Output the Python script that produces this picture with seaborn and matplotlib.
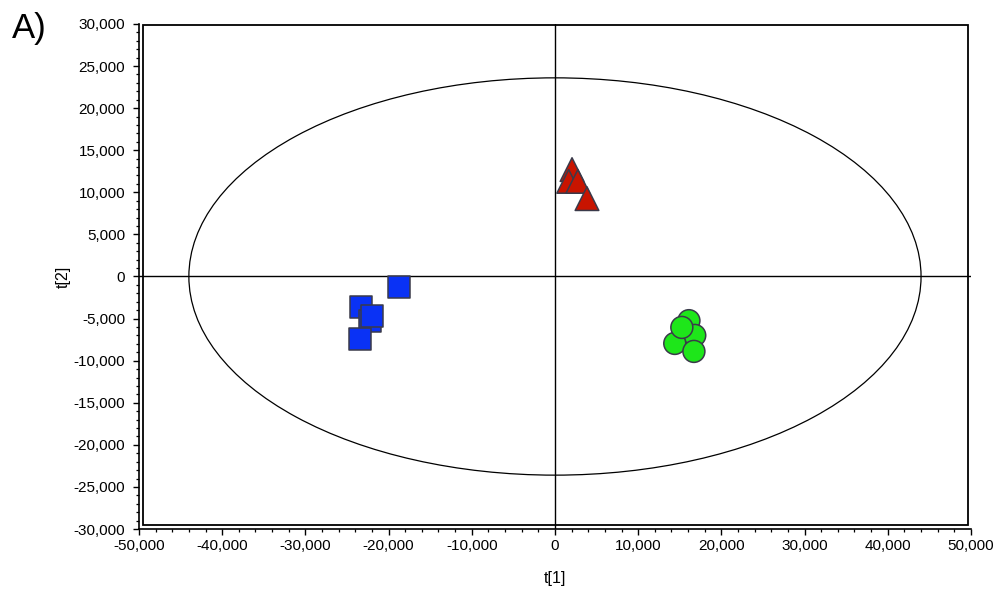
import numpy as np
import pandas as pd
import matplotlib
matplotlib.use('Agg')
import matplotlib.pyplot as plt
from matplotlib.patches import Ellipse, Rectangle
from matplotlib.ticker import MultipleLocator, FuncFormatter
import seaborn as sns

# scores
t1_squares = [-18750, -23300, -22200, -22000, -23400]
t2_squares = [-1300, -3600, -5300, -4650, -7400]
t1_triangles = [2050, 1650, 2750, 3850]
t2_triangles = [12700, 11300, 11300, 9250]
t1_circles = [16100, 16800, 14400, 16700, 15250]
t2_circles = [-5250, -7000, -7950, -8900, -6050]

# hotelling ellipse semi-axes
ell_a = 44000
ell_b = 23600

groups = ['squares'] * len(t1_squares) + ['triangles'] * len(t1_triangles) + ['circles'] * len(t1_circles)
df = pd.DataFrame({
    't1': t1_squares + t1_triangles + t1_circles,
    't2': t2_squares + t2_triangles + t2_circles,
    'grp': groups,
})

sns.set_style('white')
plt.rcParams['font.family'] = ['Liberation Sans', 'DejaVu Sans']
plt.rcParams['text.color'] = 'black'
plt.rcParams['axes.labelcolor'] = 'black'
plt.rcParams['xtick.color'] = 'black'
plt.rcParams['ytick.color'] = 'black'

fig = plt.figure(figsize=(10.04, 5.92), dpi=100)
ax = fig.add_axes([0.1384, 0.1064, 0.8287, 0.8531])

# background: ellipse + crosshair
ax.add_patch(Ellipse((0, 0), 2 * ell_a, 2 * ell_b, fill=False, ec='black', lw=0.9, zorder=1))
ax.axhline(0, color='black', lw=1.0, zorder=1)
ax.axvline(0, color='black', lw=1.0, zorder=1)

sns.scatterplot(data=df, x='t1', y='t2', hue='grp', style='grp', size='grp',
                palette={'squares': '#0a32f5', 'triangles': '#c81400', 'circles': '#1ee61a'},
                markers={'squares': 's', 'triangles': '^', 'circles': 'o'},
                sizes={'squares': 250, 'triangles': 290, 'circles': 250},
                edgecolor='#3a3a4a', linewidth=1.1, legend=False, zorder=3, ax=ax)

ax.set_xlim(-50000, 50000)
ax.set_ylim(-30000, 30000)

# inner frame
ax.add_patch(Rectangle((0.005, 0.008), 0.991, 0.99, transform=ax.transAxes,
                       fill=False, ec='black', lw=1.3, zorder=2, clip_on=False))

for s in ['top', 'right']:
    ax.spines[s].set_visible(False)
for s in ['left', 'bottom']:
    ax.spines[s].set_color('black')
    ax.spines[s].set_linewidth(1.2)

ax.xaxis.set_major_locator(MultipleLocator(10000))
ax.xaxis.set_minor_locator(MultipleLocator(2000))
ax.yaxis.set_major_locator(MultipleLocator(5000))
ax.yaxis.set_minor_locator(MultipleLocator(1000))
fmt = FuncFormatter(lambda v, p: f'{int(round(v)):,}')
ax.xaxis.set_major_formatter(fmt)
ax.yaxis.set_major_formatter(fmt)

ax.tick_params(which='major', direction='out', length=4, width=1.0, color='black',
               labelsize=11, bottom=True, left=True)
ax.tick_params(which='minor', direction='out', length=2.5, width=0.9, color='black',
               bottom=True, left=True)
ax.tick_params(axis='y', which='major', pad=6)
ax.tick_params(axis='x', which='major', pad=3)

ax.set_xlabel('t[1]', fontsize=11.5, labelpad=13)
ax.set_ylabel('t[2]', fontsize=11.5, labelpad=2)

fig.text(0.012, 0.935, 'A)', fontsize=25, color='black')

fig.savefig('out.png', dpi=100)
